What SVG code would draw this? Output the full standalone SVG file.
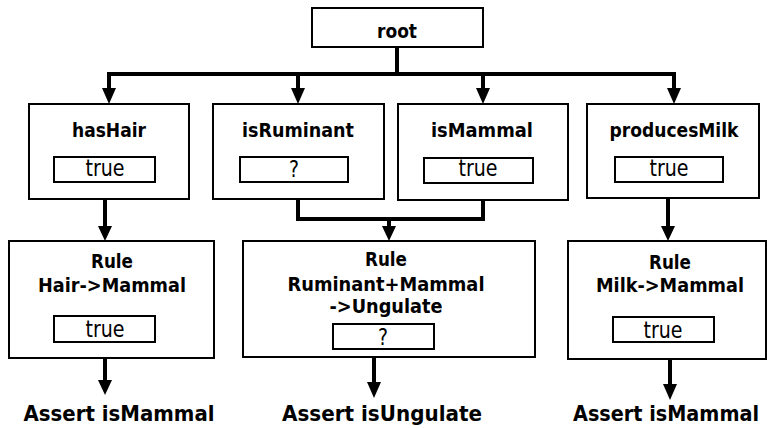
<svg xmlns="http://www.w3.org/2000/svg" width="767" height="428" viewBox="0 0 767 428">
  <style>
    .box { fill: #ffffff; stroke: #000000; stroke-width: 2; }
    .val { fill: #ffffff; stroke: #000000; stroke-width: 2; }
    .title { font-family: "DejaVu Sans", "Liberation Sans", sans-serif; font-weight: bold; font-size: 19px; fill: #000000; text-anchor: middle; }
    .value { font-family: "DejaVu Sans", "Liberation Sans", sans-serif; font-size: 23px; fill: #000000; text-anchor: middle; }
    .assert { font-family: "DejaVu Sans", "Liberation Sans", sans-serif; font-weight: bold; font-size: 22px; fill: #000000; text-anchor: middle; }
    .wire { fill: none; stroke: #000000; stroke-width: 4; }
    .head { fill: #000000; }
  </style>
  <rect width="767" height="428" fill="#ffffff"/>

  <g id="connectors">
    <!-- root to the four fact nodes -->
    <path class="wire" d="M397,47 V74 M107,74 H676"/>
    <path class="wire" d="M109,74 V90"/>
    <path class="wire" d="M298,74 V90"/>
    <path class="wire" d="M483,74 V90"/>
    <path class="wire" d="M674,74 V90"/>
    <polygon class="head" points="102,88 116,88 109,104"/>
    <polygon class="head" points="291,88 305,88 298,104"/>
    <polygon class="head" points="476,88 490,88 483,104"/>
    <polygon class="head" points="667,88 681,88 674,104"/>
    <!-- facts to rules -->
    <path class="wire" d="M105,199 V228"/>
    <polygon class="head" points="98,226 112,226 105,241"/>
    <path class="wire" d="M298,199 V219 H483 V200"/>
    <path class="wire" d="M389,219 V228"/>
    <polygon class="head" points="382,226 396,226 389,241"/>
    <path class="wire" d="M668,198 V228"/>
    <polygon class="head" points="661,226 675,226 668,241"/>
    <!-- rules to assertions -->
    <path class="wire" d="M105,358 V382"/>
    <polygon class="head" points="98,380 112,380 105,395"/>
    <path class="wire" d="M374,357 V384"/>
    <polygon class="head" points="367,382 381,382 374,398"/>
    <path class="wire" d="M670,359 V386"/>
    <polygon class="head" points="663,384 677,384 670,400"/>
  </g>

  <g id="root">
    <rect class="box" x="312" y="8" width="171" height="39"/>
    <text class="title" x="397" y="38" textLength="40" lengthAdjust="spacingAndGlyphs">root</text>
  </g>

  <g id="hasHair">
    <rect class="box" x="29" y="104" width="160" height="95"/>
    <text class="title" x="109" y="137" textLength="74" lengthAdjust="spacingAndGlyphs">hasHair</text>
    <rect class="val" x="54" y="157" width="101" height="25"/>
    <text class="value" x="105" y="176" textLength="39" lengthAdjust="spacingAndGlyphs">true</text>
  </g>

  <g id="isRuminant">
    <rect class="box" x="213" y="104" width="171" height="95"/>
    <text class="title" x="298" y="137" textLength="112" lengthAdjust="spacingAndGlyphs">isRuminant</text>
    <rect class="val" x="240" y="157" width="108" height="25"/>
    <text class="value" x="294" y="177" textLength="10" lengthAdjust="spacingAndGlyphs">?</text>
  </g>

  <g id="isMammal">
    <rect class="box" x="398" y="104" width="170" height="96"/>
    <text class="title" x="482" y="137" textLength="102" lengthAdjust="spacingAndGlyphs">isMammal</text>
    <rect class="val" x="424" y="158" width="109" height="25"/>
    <text class="value" x="478" y="176" textLength="39" lengthAdjust="spacingAndGlyphs">true</text>
  </g>

  <g id="producesMilk">
    <rect class="box" x="587" y="104" width="172" height="94"/>
    <text class="title" x="674" y="137" textLength="129" lengthAdjust="spacingAndGlyphs">producesMilk</text>
    <rect class="val" x="615" y="157" width="108" height="25"/>
    <text class="value" x="669" y="176" textLength="39" lengthAdjust="spacingAndGlyphs">true</text>
  </g>

  <g id="ruleHairMammal">
    <rect class="box" x="9" y="241" width="205" height="117"/>
    <text class="title" x="112" y="268" textLength="42" lengthAdjust="spacingAndGlyphs">Rule</text>
    <text class="title" x="112" y="292" textLength="148" lengthAdjust="spacingAndGlyphs">Hair-&gt;Mammal</text>
    <rect class="val" x="54" y="316" width="101" height="26"/>
    <text class="value" x="105" y="337" textLength="39" lengthAdjust="spacingAndGlyphs">true</text>
  </g>

  <g id="ruleUngulate">
    <rect class="box" x="243" y="241" width="292" height="116"/>
    <text class="title" x="386" y="266" textLength="42" lengthAdjust="spacingAndGlyphs">Rule</text>
    <text class="title" x="386" y="291" textLength="197" lengthAdjust="spacingAndGlyphs">Ruminant+Mammal</text>
    <text class="title" x="386" y="313" textLength="113" lengthAdjust="spacingAndGlyphs">-&gt;Ungulate</text>
    <rect class="val" x="333" y="324" width="101" height="25"/>
    <text class="value" x="383" y="345" textLength="10" lengthAdjust="spacingAndGlyphs">?</text>
  </g>

  <g id="ruleMilkMammal">
    <rect class="box" x="568" y="241" width="198" height="118"/>
    <text class="title" x="670" y="269" textLength="42" lengthAdjust="spacingAndGlyphs">Rule</text>
    <text class="title" x="670" y="292" textLength="148" lengthAdjust="spacingAndGlyphs">Milk-&gt;Mammal</text>
    <rect class="val" x="613" y="317" width="101" height="25"/>
    <text class="value" x="663" y="338" textLength="39" lengthAdjust="spacingAndGlyphs">true</text>
  </g>

  <g id="assertMammalLeft">
    <text class="assert" x="119" y="421" textLength="191" lengthAdjust="spacingAndGlyphs">Assert isMammal</text>
  </g>
  <g id="assertUngulate">
    <text class="assert" x="382" y="421" textLength="200" lengthAdjust="spacingAndGlyphs">Assert isUngulate</text>
  </g>
  <g id="assertMammalRight">
    <text class="assert" x="666" y="421" textLength="186" lengthAdjust="spacingAndGlyphs">Assert isMammal</text>
  </g>
</svg>
